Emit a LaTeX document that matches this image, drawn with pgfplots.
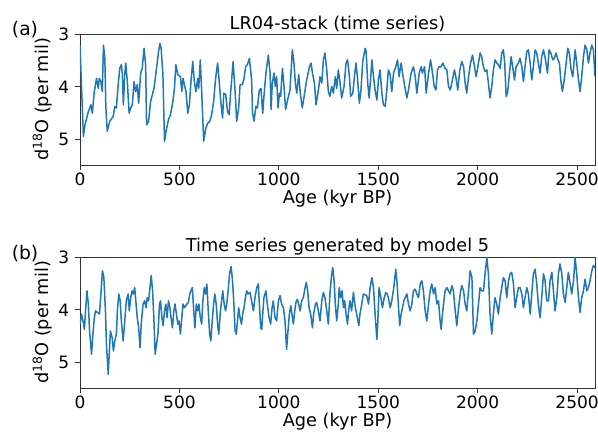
\documentclass[border=0pt]{standalone}
\usepackage{fontspec}
\setmainfont{DejaVu Sans}
\usepackage{pgfplots}
\pgfplotsset{compat=1.18}
\definecolor{mplblue}{HTML}{1F77B4}
\begin{document}
\fontsize{17}{20}\selectfont
\begin{tikzpicture}[x=1pt,y=1pt]
\useasboundingbox (0,0) rectangle (598,432);
\pgfplotsset{
  panel/.style={
    scale only axis, width=515pt, height=131pt,
    anchor=south west,
    xmin=0, xmax=2590, ymin=3, ymax=5.48, y dir=reverse,
    xtick={0,500,1000,1500,2000,2500}, ytick={3,4,5},
    tick align=outside, tick pos=left, major tick length=5pt,
    /pgf/number format/1000 sep={}, /pgf/number format/assume math mode=true,
    tick label style={font=\fontsize{17}{20}\selectfont},
    xticklabel style={yshift=2.5pt},
    label style={font=\fontsize{17.7}{21}\selectfont},
    xlabel style={yshift=8pt},
    ylabel style={yshift=-5pt},
    title style={font=\fontsize{17.7}{21}\selectfont, inner sep=2pt, yshift=-6pt},
    xlabel={Age (kyr BP)}, ylabel={d\textsuperscript{18}O (per mil)},
    axis line style={black!80, line width=0.8pt},
    every tick/.style={black!80, line width=0.8pt},
  }
}
\begin{axis}[panel, at={(80pt,267pt)}, title={LR04-stack (time series)}]
\addplot[mplblue, line width=1.5pt, line join=round] coordinates {
(0,3.21)(17,4.94)(25,4.72)(42,4.47)(55,4.34)(62,4.50)(72,4.09)(83,3.84)(92,4.03)(97,3.84)(105,3.90)(112,4.09)(118,3.21)(125,3.46)(130,4.40)(137,4.84)(150,4.65)(167,4.56)(175,4.37)(183,4.40)(192,3.96)(200,3.65)(208,3.58)(213,3.77)(218,4.34)(225,3.77)(230,3.55)(238,3.90)(247,4.50)(255,4.40)(263,4.34)(272,3.90)(280,4.09)(288,3.96)(295,4.31)(305,3.74)(313,3.65)(322,3.27)(330,3.58)(335,4.72)(345,4.65)(355,4.28)(372,4.03)(383,3.71)(395,3.33)(402,3.18)(408,3.27)(417,3.77)(425,5.03)(433,4.84)(445,4.62)(455,4.53)(467,4.28)(475,4.03)(482,3.58)(492,3.77)(505,3.81)(512,4.09)(518,3.84)(525,3.96)(533,4.09)(542,4.50)(550,4.34)(558,3.90)(567,3.52)(575,3.90)(583,4.09)(592,3.84)(597,4.03)(605,3.49)(612,4.09)(622,5.03)(633,4.78)(642,4.69)(653,4.65)(662,4.53)(672,4.28)(682,3.84)(692,3.55)(700,3.90)(708,4.28)(717,4.59)(723,4.12)(733,4.15)(742,4.47)(750,4.53)(758,4.09)(770,3.52)(780,4.09)(788,4.65)(798,4.40)(805,3.96)(817,3.96)(825,3.84)(833,3.62)(842,3.58)
(852,3.46)(863,3.87)(868,4.50)(875,4.65)(885,4.37)(892,4.40)(902,4.06)(910,4.03)(919,4.50)(925,4.18)(935,3.74)(947,3.40)(956,3.74)(961,4.43)(967,3.93)(976,3.74)(982,3.99)(989,3.81)(996,4.40)(1003,4.12)(1009,4.18)(1018,3.65)(1026,3.99)(1034,4.43)(1044,4.25)(1056,4.06)(1068,3.30)(1076,3.55)(1083,3.93)(1090,4.12)(1100,3.77)(1108,4.12)(1118,4.40)(1127,4.18)(1140,3.87)(1154,3.62)(1162,3.55)(1169,3.74)(1179,3.93)(1187,4.34)(1199,4.06)(1207,3.81)(1216,3.93)(1224,3.49)(1232,3.36)(1241,3.68)(1249,4.09)(1257,4.18)(1266,3.99)(1274,4.12)(1284,3.81)(1291,4.03)(1299,3.68)(1308,3.93)(1316,4.21)(1328,3.99)(1338,3.55)(1346,3.49)(1355,3.81)(1361,4.18)(1372,4.12)(1380,3.81)(1388,3.55)(1395,3.81)(1405,4.31)(1413,4.06)(1422,3.52)
(1434,3.27)(1439,3.33)(1447,3.93)(1454,4.21)(1461,3.87)(1468,3.49)(1474,3.74)(1484,4.06)(1493,4.25)(1501,3.87)(1509,3.68)(1518,4.12)(1526,4.34)(1535,4.37)(1543,4.06)(1551,3.68)(1560,3.77)(1568,4.09)(1577,3.74)(1588,3.62)(1597,3.49)(1605,3.81)(1615,3.55)(1625,3.81)(1635,4.03)(1644,4.21)(1652,4.06)(1665,3.74)(1677,3.62)(1686,3.81)(1694,4.12)(1706,3.74)(1716,3.62)(1722,3.74)(1733,3.62)(1741,4.12)(1753,3.74)(1763,3.49)(1773,3.74)(1781,3.99)(1790,4.06)(1798,3.68)(1806,3.62)(1815,3.62)(1825,3.55)(1836,3.65)(1845,3.68)(1853,3.99)(1862,4.06)(1873,3.87)(1883,3.68)(1890,3.81)(1900,4.06)(1910,3.68)(1920,3.52)(1929,3.62)(1937,3.93)(1945,4.12)(1954,3.81)(1964,3.55)(1974,3.40)(1984,3.62)(1992,3.81)(2001,3.62)
(2012,3.36)(2020,3.43)(2029,3.62)(2037,3.71)(2046,3.68)(2054,3.93)(2062,4.21)(2071,3.99)(2079,3.68)(2087,3.49)(2096,3.55)(2104,3.58)(2113,3.65)(2121,3.36)(2129,3.30)(2136,3.55)(2143,4.18)(2150,4.12)(2160,3.74)(2168,3.43)(2176,3.62)(2185,3.87)(2193,3.62)(2205,3.55)(2213,3.46)(2222,3.62)(2230,3.90)(2238,3.62)(2247,3.33)(2255,3.30)(2264,3.55)(2272,3.87)(2280,3.62)(2289,3.30)(2297,3.36)(2305,3.55)(2314,3.74)(2322,3.43)(2331,3.30)(2341,3.49)(2351,3.74)(2359,3.30)(2368,3.36)(2378,3.49)(2386,3.46)(2394,3.36)(2404,3.49)(2411,3.55)(2418,3.87)(2426,4.09)(2435,3.87)(2445,3.55)(2453,3.27)(2461,3.36)(2470,3.68)(2478,3.81)(2490,3.30)(2498,3.55)(2507,3.87)(2515,4.09)(2523,3.81)(2532,3.43)(2540,3.21)(2549,3.30)(2557,3.55)(2565,3.36)(2574,3.21)(2582,3.30)(2590,3.80)
};
\end{axis}
\begin{axis}[panel, at={(80pt,44pt)}, title={Time series generated by model 5}]
\addplot[mplblue, line width=1.5pt, line join=round] coordinates {
(0,4.27)(8,4.08)(15,4.21)(22,4.37)(28,4.02)(35,3.64)(42,3.89)(48,4.40)(58,4.84)(65,4.46)(72,4.15)(78,4.02)(88,4.05)(98,4.08)(105,3.70)(113,3.26)(120,3.39)(128,4.02)(133,4.65)(142,5.22)(147,4.84)(153,4.40)(162,4.53)(168,4.78)(175,4.59)(183,4.46)(188,4.02)(195,3.70)(202,3.83)(208,4.21)(217,4.59)(225,4.21)(233,3.83)(242,3.70)(248,4.02)(255,3.77)(262,3.64)(268,3.70)(275,3.58)(282,3.89)(288,4.15)(295,4.34)(302,4.72)(308,4.27)(317,3.89)(325,3.83)(332,3.96)(338,3.77)(345,3.83)(352,3.58)(358,3.35)(365,3.64)(372,4.21)(378,4.84)(385,4.65)(392,4.46)(400,3.89)(405,3.83)(412,4.15)(418,4.30)(425,4.02)(432,3.89)(438,4.15)(445,3.83)(452,3.96)(458,4.15)(465,4.34)(472,4.02)(478,3.89)(485,4.08)(492,4.27)(498,4.21)(505,4.46)(512,4.15)(518,3.89)(525,3.96)(532,3.92)(538,3.89)(545,3.86)(552,3.70)(558,3.64)(565,3.58)(572,4.02)(578,4.34)(585,3.89)(592,4.02)(598,3.89)(605,4.15)(612,4.27)(618,3.83)(625,3.58)(632,3.70)(638,3.51)(645,4.02)(652,4.46)(658,4.59)(665,4.21)(672,3.89)(678,3.70)(685,3.89)(692,4.27)(698,4.46)(705,4.08)(712,3.83)(718,3.64)(725,3.89)(732,4.02)(738,3.89)(745,3.64)(752,3.32)(760,3.18)(767,3.45)(774,3.89)(780,4.40)(786,4.46)(792,4.21)(798,3.96)(805,4.15)(812,4.27)(818,4.08)(825,3.96)(832,3.77)(838,3.64)(845,3.70)
(855,3.67)(863,3.83)(872,4.02)(880,3.77)(889,3.58)(897,3.51)(902,3.89)(909,4.34)(914,4.37)(919,4.08)(925,3.77)(935,3.64)(942,3.89)(951,4.15)(959,4.27)(966,3.96)(972,3.83)(981,4.15)(989,4.21)(998,3.83)(1006,3.73)(1014,3.89)(1023,3.96)(1031,4.21)(1039,4.75)(1046,4.40)(1053,4.08)(1060,3.92)(1066,4.08)(1073,4.27)(1080,4.02)(1086,3.86)(1093,3.80)(1100,3.89)(1107,4.02)(1115,3.83)(1123,3.77)(1132,3.58)(1138,3.48)(1145,3.64)(1152,3.96)(1160,4.08)(1169,4.34)(1175,4.08)(1184,3.89)(1190,3.86)(1199,4.02)(1207,4.21)(1216,3.83)(1224,3.67)(1232,3.77)(1241,4.02)(1249,4.27)(1257,3.70)(1264,3.39)(1271,3.20)(1278,3.45)(1284,3.89)(1291,4.21)(1299,3.89)(1304,3.58)(1311,3.77)(1318,3.64)(1325,3.96)(1331,3.83)(1338,4.08)(1345,4.27)(1351,4.02)(1358,3.83)(1366,4.02)(1375,3.67)(1382,3.89)(1388,4.02)(1395,4.15)(1402,4.30)(1408,4.08)(1417,3.89)(1425,3.70)
(1442,3.73)(1451,3.89)(1459,3.58)(1468,3.39)(1476,3.58)(1484,4.08)(1493,4.56)(1498,4.21)(1504,3.58)(1513,3.77)(1521,3.96)(1530,3.77)(1538,3.67)(1545,3.70)(1551,3.77)(1560,3.96)(1568,3.83)(1578,3.58)(1588,3.23)(1595,3.51)(1602,3.96)(1608,4.30)(1615,4.08)(1622,3.96)(1629,3.83)(1635,3.77)(1644,3.70)(1652,3.89)(1660,4.02)(1669,3.89)(1677,3.64)(1686,3.61)(1694,3.70)(1702,3.77)(1711,3.51)(1719,3.45)(1727,3.64)(1736,4.02)(1744,4.21)(1753,3.89)(1761,3.64)(1769,3.51)(1778,3.70)(1786,3.58)(1795,3.89)(1803,3.83)(1811,4.21)(1816,4.37)(1823,4.08)(1830,3.83)(1836,3.64)(1845,3.58)(1853,3.64)(1862,3.70)(1870,3.54)(1878,3.64)(1887,4.02)(1895,4.30)(1904,3.96)(1912,3.70)(1920,3.54)(1929,3.64)(1937,3.89)(1945,4.02)(1954,3.64)(1962,3.26)(1971,3.39)(1979,4.46)(1987,4.40)(1996,4.21)(2004,3.89)
(2012,3.58)(2020,3.64)(2029,3.64)(2037,3.32)(2046,3.01)(2054,3.32)(2062,4.08)(2071,4.46)(2079,4.08)(2087,3.77)(2096,3.89)(2104,4.08)(2113,3.77)(2121,3.58)(2129,3.39)(2138,3.45)(2146,3.77)(2155,3.45)(2163,3.32)(2171,3.29)(2180,3.51)(2188,3.96)(2196,3.77)(2205,3.58)(2213,3.58)(2222,3.70)(2230,3.96)(2238,3.77)(2247,3.58)(2255,3.70)(2264,4.08)(2272,3.70)(2280,3.32)(2289,3.23)(2297,3.51)(2305,3.89)(2314,4.15)(2322,3.77)(2331,3.32)(2339,3.45)(2347,3.83)(2356,3.83)(2364,3.45)(2373,3.29)(2381,3.64)(2389,4.02)(2398,3.77)(2406,3.32)(2414,3.13)(2423,3.32)(2431,3.70)(2440,3.86)(2448,3.58)(2456,3.29)(2465,3.51)(2473,3.70)(2482,3.45)(2490,3.01)(2498,3.32)(2507,3.77)(2515,4.05)(2523,3.77)(2532,3.64)(2540,3.42)(2549,3.64)(2557,3.58)(2565,3.45)(2574,3.26)(2582,3.16)(2590,3.20)
};
\end{axis}
\node[font=\fontsize{18.7}{22}\selectfont] at (25,402) {(a)};
\node[font=\fontsize{18.7}{22}\selectfont] at (25,178) {(b)};
\end{tikzpicture}
\end{document}
